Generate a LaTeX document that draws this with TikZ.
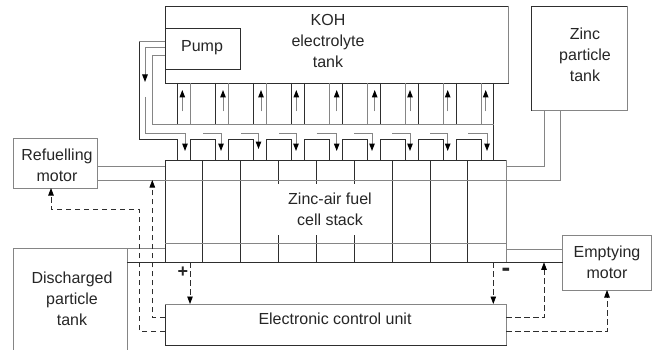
\documentclass[tikz,border=0pt]{standalone}
\usepackage{fontspec}
\setmainfont{Liberation Sans}
\usetikzlibrary{arrows.meta}
\definecolor{dk}{HTML}{2E2E2E}
\definecolor{gy}{HTML}{858585}
\tikzset{
  dkl/.style={draw=dk,line width=0.9pt},
  gyl/.style={draw=gy,line width=1pt},
  boxn/.style={rectangle,inner sep=0pt,outer sep=0pt,draw=#1,line width=0.9pt,fill=white},
  lab/.style={inner sep=0pt,align=center,text=black!85,font=\fontsize{16}{21}\selectfont},
  headn/.style={-{Triangle[length=7.5pt,width=5.5pt,fill=black,color=black]}},
  dsh/.style={draw=dk,line width=0.8pt,dash pattern=on 5.5pt off 3.5pt},
}
\begin{document}
\begin{tikzpicture}[x=1pt,y=-1pt]
\useasboundingbox (0,0) rectangle (658,350);
% boxes
\node[boxn=dk,minimum width=343pt,minimum height=77pt] (koh) at (336.5,44.5) {};
\node[boxn=dk,minimum width=75.5pt,minimum height=41.5pt] (pump) at (202.75,48.75) {};
\node[boxn=dk,minimum width=96pt,minimum height=104.5pt] (zinc) at (579.5,58.25) {};
\node[boxn=gy,minimum width=84pt,minimum height=49.5pt] (refuel) at (55,163.25) {};
\node[boxn=gy,minimum width=88.5pt,minimum height=55pt] (empty) at (606.75,262.5) {};
\node[boxn=gy,minimum width=114pt,minimum height=112pt] (disch) at (70,304) {};
\node[boxn=dk,minimum width=341pt,minimum height=102.3pt] (stack) at (335.5,211.15) {};
\node[boxn=dk,minimum width=341pt,minimum height=41pt] (ecu) at (335.5,324.5) {};
% grey shaded edges
\draw[gyl] (koh.north east) -- (koh.south east);
\draw[gyl] (zinc.north east) -- (zinc.south east) -- (zinc.south west);
\draw[gyl] (stack.north east) -- (stack.south east);
\draw[gyl] (ecu.north west) -- (ecu.north east) -- (ecu.south east);
% coordinates
\coordinate (chb) at (0,124.5);
\coordinate (lowtop) at (0,139);
\coordinate (stub) at (0,133);
\coordinate (band) at (0,243.3);
\coordinate (railA) at (0,166);
\coordinate (railB) at (0,180);
% upper channels
\foreach \k in {0,...,8}{
  \pgfmathsetmacro{\xa}{177.3+38*\k}
  \pgfmathtruncatemacro{\ca}{\k<4 ? 1 : 0}
  \ifnum\ca=1 \draw[dkl] (\xa,0 |- koh.south) -- (\xa,0 |- chb); \else \draw[gyl] (\xa,0 |- koh.south) -- (\xa,0 |- chb); \fi
}
\foreach \k in {0,...,7}{
  \pgfmathsetmacro{\xb}{190.3+38*\k}
  \pgfmathtruncatemacro{\cb}{\k<3 ? 0 : 1}
  \ifnum\cb=1 \draw[dkl] (\xb,0 |- koh.south) -- (\xb,0 |- chb); \else \draw[gyl] (\xb,0 |- koh.south) -- (\xb,0 |- chb); \fi
}
% lower channels
\draw[dkl] (177.3,0 |- lowtop) -- (177.3,0 |- stack.north);
\draw[gyl] (190.3,0 |- lowtop) -- (190.3,0 |- stack.north);
\foreach \k in {0,...,7}{
  \pgfmathsetmacro{\xa}{190.3+38*\k}
  \pgfmathsetmacro{\xb}{215.3+38*\k}
  \draw[dkl] (\xa,0 |- stack.north) -- (\xa,0 |- lowtop) -- (\xb,0 |- lowtop) -- (\xb,0 |- stack.north);
}
\draw[dkl] (493.8,0 |- koh.south) -- (493.8,0 |- stack.north);
% pump pipes
\coordinate (p1) at (139,42);
\coordinate (p1b) at (139,139);
\coordinate (p2) at (145,47.5);
\coordinate (p2m) at (145,82);
\coordinate (p2n) at (145,97);
\coordinate (p2b) at (145,133);
\coordinate (p2c) at (185,133);
\coordinate (p2d) at (185,151);
\coordinate (p3) at (152,56);
\coordinate (p3b) at (152,124.5);
\coordinate (p3c) at (493.8,124.5);
\draw[gyl] (pump.west |- p1) -- (p1);
\draw[dkl] (p1) -- (p1b) -- (177.3,0 |- p1b);
\draw[gyl,headn] (pump.west |- p2) -- (p2) -- (p2m);
\draw[gyl,headn] (p2n) -- (p2b) -- (p2c) -- (p2d);
\draw[gyl] (pump.west |- p3) -- (p3) -- (p3b) -- (p3c);
% up arrows
\foreach \x in {182.3,223,261,296.3,336.7,374.7,410,447.7,485.7}{
  \draw[gyl,headn] (\x,111.5) -- (\x,90);
}
% down arrows with stubs
\foreach \x/\s/\t in {221/203/151,258.5/241/149,296/279/151,336.7/316.5/151,372/354.3/151,410/392.3/151,447.7/430/151,487/468/151}{
  \draw[gyl,headn] (\s,133) -- (\x,133) -- (\x,\t);
}
% stack
\foreach \k in {1,...,8}{
  \pgfmathsetmacro{\xa}{165+37.85*\k}
  \draw[dkl] (\xa,0 |- stack.north) -- (\xa,0 |- stack.south);
}
\draw[gyl] (stack.west |- band) -- (stack.east |- band);
% rails
\draw[gyl] (refuel.east |- railA) -- (stack.west |- railA);
\draw[gyl] (refuel.east |- railB) -- (560,0 |- railB) -- (560,0 |- zinc.south);
\draw[gyl] (stack.east |- railA) -- (544,0 |- railA) -- (544,0 |- zinc.south);
\fill[white] (277.6,184) rectangle (356,235);
\node[lab] (stacklab) at (330,209.5) {Zinc-air fuel\\cell stack};
% bottom lines
\coordinate (lowA) at (0,249);
\draw[gyl] (disch.north east) -- (stack.west |- disch.north east);
\draw[dkl] (disch.east |- stack.south) -- (empty.west |- stack.south);
\draw[gyl] (stack.east |- lowA) -- (empty.west |- lowA);
% dashed control lines
\coordinate (d1) at (152.3,317.7);
\coordinate (d1t) at (152.3,180);
\coordinate (d2) at (139.5,331.5);
\coordinate (d2m) at (139.5,209.5);
\coordinate (d2n) at (51,209.5);
\coordinate (d3) at (544,317.5);
\coordinate (d3t) at (544,262.3);
\coordinate (d4) at (607,331.5);
\coordinate (plus) at (190,0);
\coordinate (minus) at (493.3,0);
\draw[dsh,headn] (ecu.west |- d1) -- (d1) -- (d1t);
\draw[dsh,headn] (ecu.west |- d2) -- (d2) -- (d2m) -- (d2n) -- (d2n |- refuel.south);
\draw[dsh,headn] (ecu.east |- d3) -- (d3) -- (d3t);
\draw[dsh,headn] (ecu.east |- d4) -- (d4) -- (d4 |- empty.south);
\draw[dsh,headn] (plus |- stack.south) -- (plus |- ecu.north);
\draw[dsh,headn] (minus |- stack.south) -- (minus |- ecu.north);
% labels
\node[lab] (kohlab) at (328,41) {KOH\\electrolyte\\tank};
\node[lab] (pumplab) at (202,48) {Pump};
\node[lab] (zinclab) at (585,55) {Zinc\\particle\\tank};
\node[lab] (refuellab) at (57,165.5) {Refuelling\\motor};
\node[lab] (emptylab) at (607,262) {Emptying\\motor};
\node[lab] (dischlab) at (72,299) {Discharged\\particle\\tank};
\node[lab] (eculab) at (335,319) {Electronic control unit};
\node[lab,font=\fontsize{18}{20}\bfseries\selectfont] (pluslab) at (183,272.5) {+};
\node[lab,font=\fontsize{26}{28}\bfseries\selectfont] (minuslab) at (506,272) {-};
\end{tikzpicture}
\end{document}
